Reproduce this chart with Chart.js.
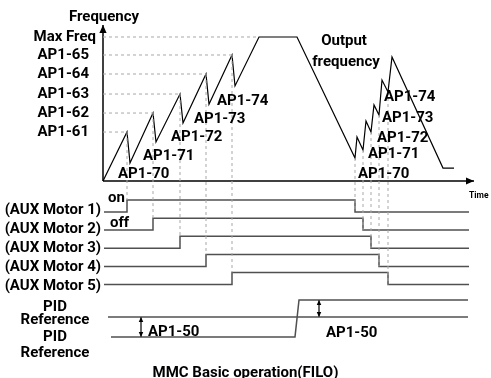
<!DOCTYPE html>
<html>
<head>
<meta charset="utf-8">
<title>MMC Basic operation(FILO)</title>
<script src="https://cdn.jsdelivr.net/npm/chart.js@4.4.1/dist/chart.umd.min.js"></script>
<style>
  html, body { margin: 0; padding: 0; background: #fff; }
  #wrap { width: 491px; height: 378px; }
</style>
</head>
<body>
<div id="wrap"><canvas id="mmcChart" width="491" height="378"></canvas></div>
<script>
// ---- data (time in ticks from start, frequency in % of max freq) ----
const LEVEL_NAMES  = ['AP1-61', 'AP1-62', 'AP1-63', 'AP1-64', 'AP1-65', 'Max Freq'];
const LEVEL_VALUES = [34, 47.2, 60.4, 74.3, 87.5, 100];
const MAX_REACH_T  = 156;

// aux motor switching instants
const MOTOR_NAMES     = ['(AUX Motor 1)', '(AUX Motor 2)', '(AUX Motor 3)', '(AUX Motor 4)', '(AUX Motor 5)'];
const MOTOR_ON_T      = [24, 50, 77, 103, 129];
const MOTOR_OFF_T     = [252, 260, 268, 276, 285];
const OFF_TROUGH_F    = [16, 21.5, 34, 45.8, 61.8];
const STOP_NAMES      = ['AP1-70', 'AP1-71', 'AP1-72', 'AP1-73', 'AP1-74'];

// output frequency trace
const TRACE_T = [0, 24, 27, 50, 53, 77, 80, 103, 106, 129, 132, 156, 194,
                 252, 254, 260, 263, 268, 271, 276, 279, 285, 289, 340, 351];
const TRACE_F = [0, 34, 12.5, 47.2, 27.1, 60.4, 40.3, 74.3, 53.3, 87.5, 66, 100, 100,
                 16, 30.6, 21.5, 41.7, 34, 52.8, 45.8, 70.1, 61.8, 86.1, 9, 9];

// PID reference step
const PID_STEP_T = [192, 196];
const PID_REF    = [-108.3, -94.4, -82.6];   // old ref, band, new ref

// ---- layout ----
const X_MIN = -103, X_MAX = 388;
const Y_MIN = -136.81, Y_MAX = 125.69;
const Y_AXIS_TOP = 108.3, X_AXIS_END = 371;
const LINE_START = 1, LINE_END = 366;
const ROW_TOP = -21.5, ROW_STEP = -12.6, PULSE = 8.3;

const FONT = '"Roboto", "Liberation Sans Narrow", sans-serif';
const DASH_COLOR = '#a8a8a8';
const MOTOR_COLOR = '#505050';

function pts(xs, ys) { return xs.map((x, i) => ({ x: x, y: ys[i] })); }

function lineSet(data, extra) {
  return Object.assign({
    data: data,
    showLine: true,
    borderColor: '#000',
    borderWidth: 1.2,
    pointRadius: 0,
    tension: 0,
    fill: false
  }, extra || {});
}

const datasets = [];

// dashed guides: level -> peak, peak -> motor step
LEVEL_VALUES.forEach((v, i) => {
  const tEnd = i < MOTOR_ON_T.length ? MOTOR_ON_T[i] : MAX_REACH_T;
  datasets.push(lineSet([{ x: 0, y: v }, { x: tEnd, y: v }],
    { borderColor: DASH_COLOR, borderWidth: 1, borderDash: [3, 3] }));
});
MOTOR_ON_T.forEach((t, i) => {
  datasets.push(lineSet([{ x: t, y: LEVEL_VALUES[i] }, { x: t, y: ROW_TOP + i * ROW_STEP + PULSE }],
    { borderColor: DASH_COLOR, borderWidth: 1, borderDash: [3, 3] }));
});
MOTOR_OFF_T.forEach((t, i) => {
  datasets.push(lineSet([{ x: t, y: OFF_TROUGH_F[i] }, { x: t, y: ROW_TOP + i * ROW_STEP }],
    { borderColor: DASH_COLOR, borderWidth: 1, borderDash: [3, 3] }));
});

// axes with arrowheads
datasets.push(lineSet([{ x: 0, y: 0 }, { x: 0, y: Y_AXIS_TOP }], { borderWidth: 1.5, arrowHeads: 'end', arrowSize: 8 }));
datasets.push(lineSet([{ x: 0, y: 0 }, { x: X_AXIS_END, y: 0 }], { borderWidth: 1.5, arrowHeads: 'end', arrowSize: 8 }));

// output frequency
datasets.push(lineSet(pts(TRACE_T, TRACE_F), { borderWidth: 1.2 }));

// aux motor on/off rows
MOTOR_ON_T.forEach((tOn, i) => {
  const low = ROW_TOP + i * ROW_STEP, high = low + PULSE, tOff = MOTOR_OFF_T[i];
  datasets.push(lineSet([
    { x: LINE_START, y: low }, { x: tOn, y: low }, { x: tOn, y: high },
    { x: tOff, y: high }, { x: tOff, y: low }, { x: LINE_END, y: low }
  ], { borderColor: MOTOR_COLOR, borderWidth: 1.5 }));
});

// PID reference lines
datasets.push(lineSet([{ x: 5, y: PID_REF[1] }, { x: LINE_END - 1, y: PID_REF[1] }],
  { borderColor: MOTOR_COLOR, borderWidth: 1.5 }));
datasets.push(lineSet([
  { x: 8, y: PID_REF[0] }, { x: PID_STEP_T[0], y: PID_REF[0] },
  { x: PID_STEP_T[1], y: PID_REF[2] }, { x: LINE_END - 1, y: PID_REF[2] }
], { borderColor: MOTOR_COLOR, borderWidth: 1.5 }));

// AP1-50 band markers
datasets.push(lineSet([{ x: 38, y: PID_REF[1] }, { x: 38, y: PID_REF[0] }],
  { borderWidth: 1.2, arrowHeads: 'both', arrowSize: 5 }));
datasets.push(lineSet([{ x: 216, y: PID_REF[2] }, { x: 216, y: PID_REF[1] }],
  { borderWidth: 1.2, arrowHeads: 'both', arrowSize: 5 }));

// text annotations (t, f in data units; baseline alphabetic unless noted)
const labels = [
  { text: 'Frequency', t: 1, f: 111.1, align: 'center' },
  { text: 'Output', t: 241, f: 94.4, align: 'center' },
  { text: 'frequency', t: 243, f: 80.1, align: 'center' },
  { text: 'Time', t: 366, f: -11.5, align: 'left', size: 8.5 },
  { text: 'on', t: 5, f: -14.4, align: 'left' },
  { text: 'off', t: 7, f: -31.7, align: 'left' },
  { text: 'PID', t: -48, f: -90.3, align: 'center' },
  { text: 'Reference', t: -48, f: -99.3, align: 'center' },
  { text: 'PID', t: -48, f: -111.1, align: 'center' },
  { text: 'Reference', t: -48, f: -122, align: 'center' },
  { text: 'AP1-50', t: 45, f: -107.6, align: 'left' },
  { text: 'AP1-50', t: 223, f: -108.5, align: 'left' },
  { text: 'MMC Basic operation(FILO)', t: 142.5, f: -135.9, align: 'center' }
];
LEVEL_NAMES.forEach((name, i) => {
  labels.push({ text: name, t: i === LEVEL_NAMES.length - 1 ? -7 : -14, f: LEVEL_VALUES[i], align: 'right', middle: true });
});
const STOP_LEFT = [15, 40, 68, 91, 114], STOP_LEFT_F = [2.1, 14.6, 27.8, 40.6, 53.1];
const STOP_RIGHT = [255, 265, 274, 279, 281], STOP_RIGHT_F = [2.1, 16.3, 27.1, 41, 55.6];
STOP_NAMES.forEach((name, i) => {
  labels.push({ text: name, t: STOP_LEFT[i], f: STOP_LEFT_F[i], align: 'left' });
  labels.push({ text: name, t: STOP_RIGHT[i], f: STOP_RIGHT_F[i], align: 'left' });
});
MOTOR_NAMES.forEach((name, i) => {
  labels.push({ text: name, t: -2, f: -23.1 + i * -13.15, align: 'right' });
});

// filled arrowheads at line ends
const arrowPlugin = {
  id: 'arrowHeads',
  afterDatasetsDraw(chart) {
    const ctx = chart.ctx, xs = chart.scales.x, ys = chart.scales.y;
    chart.data.datasets.forEach(ds => {
      if (!ds.arrowHeads) return;
      const p = ds.data.map(d => ({ x: xs.getPixelForValue(d.x), y: ys.getPixelForValue(d.y) }));
      const size = ds.arrowSize || 6;
      const head = (tip, from) => {
        const a = Math.atan2(tip.y - from.y, tip.x - from.x);
        ctx.beginPath();
        ctx.moveTo(tip.x, tip.y);
        ctx.lineTo(tip.x - size * Math.cos(a) + size * 0.45 * Math.sin(a), tip.y - size * Math.sin(a) - size * 0.45 * Math.cos(a));
        ctx.lineTo(tip.x - size * Math.cos(a) - size * 0.45 * Math.sin(a), tip.y - size * Math.sin(a) + size * 0.45 * Math.cos(a));
        ctx.closePath();
        ctx.fill();
      };
      ctx.save();
      ctx.fillStyle = ds.borderColor;
      head(p[p.length - 1], p[p.length - 2]);
      if (ds.arrowHeads === 'both') head(p[0], p[1]);
      ctx.restore();
    });
  }
};

const textPlugin = {
  id: 'diagramText',
  afterDatasetsDraw(chart) {
    const ctx = chart.ctx, xs = chart.scales.x, ys = chart.scales.y;
    ctx.save();
    ctx.fillStyle = '#000';
    labels.forEach(l => {
      ctx.font = 'bold ' + (l.size || 15) + 'px ' + FONT;
      ctx.textAlign = l.align;
      ctx.textBaseline = l.middle ? 'middle' : 'alphabetic';
      ctx.fillText(l.text, xs.getPixelForValue(l.t), ys.getPixelForValue(l.f));
    });
    ctx.restore();
  }
};

new Chart(document.getElementById('mmcChart'), {
  type: 'scatter',
  data: { datasets: datasets },
  options: {
    responsive: false,
    devicePixelRatio: 1,
    animation: false,
    events: [],
    layout: { padding: 0 },
    plugins: { legend: { display: false }, tooltip: { enabled: false } },
    scales: {
      x: { type: 'linear', display: false, min: X_MIN, max: X_MAX },
      y: { type: 'linear', display: false, min: Y_MIN, max: Y_MAX }
    }
  },
  plugins: [arrowPlugin, textPlugin]
});
</script>
</body>
</html>
